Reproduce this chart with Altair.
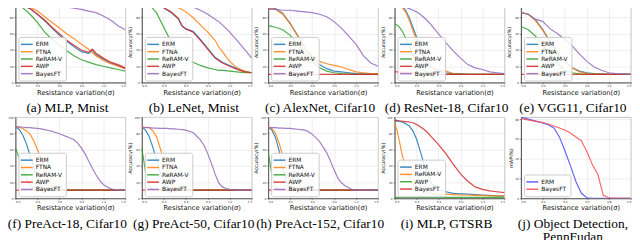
import altair as alt
import pandas as pd

# ---------------- data ----------------
XA = [0.0, 0.1, 0.2, 0.3, 0.4, 0.5, 0.6, 0.7, 0.8, 0.9, 1.0, 1.05, 1.1, 1.2, 1.3, 1.4, 1.5]
A_ERM = [97, 95, 91, 84, 76, 67, 58, 51, 44, 38, 36, 40, 34, 29, 24, 21, 17]
A_FTNA = [97, 96, 93, 88, 81, 74, 67, 60, 54, 47, 41, 37, 33, 27, 23, 20, 17]
A_RERAM = [97, 92, 84, 74, 62, 53, 46, 39, 33, 28, 25, 23.5, 22, 20, 18, 16, 14]
A_AWP = [97, 95, 91, 84, 77, 68, 60, 52, 46, 40, 37, 41, 36, 30, 25, 22, 18]
A_BAYES = [97, 97, 96.5, 96, 95.5, 95, 94, 93, 91.5, 90, 88, 87, 86, 82, 77, 70, 65]

XB = [0.0, 0.1, 0.2, 0.3, 0.4, 0.5, 0.55, 0.6, 0.7, 0.8, 0.9, 1.0, 1.05, 1.1, 1.2, 1.3, 1.4, 1.5]
B_ERM = [99, 98, 96, 92, 86, 78, 69, 66, 63, 53, 42, 31, 28, 25, 21, 17, 14, 12]
B_FTNA = [99, 99, 98, 97, 95, 92, 90, 87, 80, 71, 62, 52, 44, 38, 26, 18, 14, 12]
B_RERAM = [99, 96, 86, 68, 50, 34, 31, 29, 25, 21, 18, 16, 15, 15, 14, 13, 12, 12]
B_AWP = [99, 98, 96, 92, 87, 79, 70, 66, 62, 52, 41, 30, 27, 24, 20, 16, 13, 12]
B_BAYES = [99, 99, 98.5, 98, 97.5, 97, 96, 95, 93, 89, 84, 78, 75, 71, 62, 52, 41, 30]

XC = [0.0, 0.1, 0.2, 0.3, 0.4, 0.5, 0.6, 0.7, 0.8, 0.9, 1.0, 1.1, 1.2, 1.3, 1.4, 1.5]
C_ERM = [92, 91, 85, 73, 58, 42, 30, 22, 17, 14, 13, 12, 11, 10.5, 10, 10]
C_FTNA = [92, 90, 84, 72, 58, 43, 32, 26, 23, 21, 19, 16, 13, 12, 11, 11]
C_RERAM = [70, 68, 65, 58, 48, 36, 26, 18, 14, 12, 11, 10.5, 10, 10, 10, 10]
C_AWP = [10, 10, 10, 10, 10, 10, 10, 10, 10, 10, 10, 10, 10, 10, 10, 10]
C_BAYES = [90, 90, 89, 89, 88, 87, 86, 84, 81, 75, 67, 57, 47, 33, 24, 20]

XD = [0.0, 0.05, 0.1, 0.15, 0.2, 0.25, 0.3, 0.35, 0.4, 0.45, 0.5, 0.6, 0.7, 0.8, 0.9, 1.0, 1.1, 1.2, 1.3, 1.4, 1.5]
D_ERM = [96, 96, 94, 89, 80, 68, 56, 44, 33, 25, 19, 14, 12, 11, 10.5, 10, 10, 10, 10, 10, 10]
D_FTNA = [96, 96, 93, 87, 77, 64, 52, 40, 30, 23, 18, 15, 14, 11, 10.5, 10, 10, 10, 10, 10, 10]
D_RERAM = [72, 70, 64, 55, 45, 34, 25, 18, 14, 12, 11, 10, 10, 10, 10, 10, 10, 10, 10, 10, 10]
D_AWP = [13, 13, 12.5, 12.5, 12, 12, 11.5, 11, 11, 10.5, 10.5, 10, 10, 10, 10, 10, 10, 10, 10, 10, 10]
D_BAYES = [97, 96, 94, 92.5, 91, 89, 87, 84, 80, 76, 71, 60, 49, 39, 30, 22, 18, 16, 13, 12, 11]

XE = [0.0, 0.1, 0.2, 0.3, 0.4, 0.5, 0.6, 0.7, 0.8, 0.9, 1.0, 1.1, 1.2, 1.3, 1.4, 1.5]
E_ERM = [86, 84, 77, 65, 50, 37, 26, 18, 14, 12, 11, 10.5, 10, 10, 10, 10]
E_FTNA = [86, 84, 76, 64, 49, 35, 25, 18, 13, 11, 10.5, 10, 10, 10, 10, 10]
E_RERAM = [69, 65, 57, 46, 34, 23, 15, 12, 10.5, 10, 10, 10, 10, 10, 10, 10]
E_AWP = [10, 10, 10, 10, 10, 10, 10, 10, 10, 10, 10, 10, 10, 10, 10, 10]
E_BAYES = [86, 84, 78, 75, 66, 60, 53, 45, 35, 26, 19, 15, 12, 11, 10.5, 10]

XF = [0.0, 0.05, 0.1, 0.15, 0.2, 0.25, 0.3, 0.35, 0.4, 0.45, 0.5, 0.55, 0.6, 0.7,
      0.8, 0.85, 0.9, 0.95, 1.0, 1.05, 1.1, 1.15, 1.2, 1.25, 1.3, 1.35, 1.4, 1.5]
F_ERM = [88, 85, 78, 67, 53, 38, 24, 15, 11, 10, 10, 10, 10, 10,
         10, 10, 10, 10, 10, 10, 10, 10, 10, 10, 10, 10, 10, 10]
F_FTNA = [88, 87.5, 86, 83, 79, 71, 60, 48, 35, 24, 16, 12, 10, 10,
          10, 10, 10, 10, 10, 10, 10, 10, 10, 10, 10, 10, 10, 10]
F_RERAM = [62, 50, 36, 24, 16, 12, 10, 10, 10, 10, 10, 10, 10, 10,
           10, 10, 10, 10, 10, 10, 10, 10, 10, 10, 10, 10, 10, 10]
F_AWP = [10, 10, 10, 10, 10, 10, 10, 10, 10, 10, 10, 10, 10, 10,
         10, 10, 10, 10, 10, 10, 10, 10, 10, 10, 10, 10, 10, 10]
F_BAYES = [88, 88, 87.5, 87, 87, 86.5, 86, 85.5, 84.5, 83.5, 82.5, 81, 79.5, 76,
           72, 68, 62, 55, 46, 37, 29, 22, 17, 14, 12, 10.5, 10, 10]

G_ERM = [88, 84, 76, 63, 47, 32, 20, 13, 10.5, 10, 10, 10, 10, 10,
         10, 10, 10, 10, 10, 10, 10, 10, 10, 10, 10, 10, 10, 10]
G_FTNA = [88, 87.5, 87, 83, 76, 62, 46, 30, 19, 13, 10.5, 10, 10, 10,
          10, 10, 10, 10, 10, 10, 10, 10, 10, 10, 10, 10, 10, 10]
G_RERAM = [62, 33, 15, 11, 10, 10, 10, 10, 10, 10, 10, 10, 10, 10,
           10, 10, 10, 10, 10, 10, 10, 10, 10, 10, 10, 10, 10, 10]
G_AWP = [10, 10, 10, 10, 10, 10, 10, 10, 10, 10, 10, 10, 10, 10,
         10, 10, 10, 10, 10, 10, 10, 10, 10, 10, 10, 10, 10, 10]
G_BAYES = [87, 87, 87, 86.5, 86.5, 86, 86, 86, 85.5, 85.5, 85, 84.5, 84, 81,
           72, 65, 55, 43, 30, 19, 14, 12, 11, 10.5, 10, 10, 10, 10]

H_ERM = [88, 84, 75, 58, 36, 20, 13, 10, 10, 10, 10, 10, 10, 10,
         10, 10, 10, 10, 10, 10, 10, 10, 10, 10, 10, 10, 10, 10]
H_FTNA = [88, 86, 80, 68, 52, 34, 21, 13, 10, 10, 10, 10, 10, 10,
          10, 10, 10, 10, 10, 10, 10, 10, 10, 10, 10, 10, 10, 10]
H_RERAM = [57, 30, 14, 10, 10, 10, 10, 10, 10, 10, 10, 10, 10, 10,
           10, 10, 10, 10, 10, 10, 10, 10, 10, 10, 10, 10, 10, 10]
H_AWP = [10, 10, 10, 10, 10, 10, 10, 10, 10, 10, 10, 10, 10, 10,
         10, 10, 10, 10, 10, 10, 10, 10, 10, 10, 10, 10, 10, 10]
H_BAYES = [87, 87, 87, 86.5, 86.5, 86, 86, 85.5, 85, 84.5, 84, 82, 79, 70,
           56, 46, 35, 25, 19, 15.5, 13, 10.5, 10, 10, 10, 10, 10, 10]

XI = [0.0, 0.03, 0.06, 0.1, 0.15, 0.2, 0.25, 0.3, 0.35, 0.4, 0.45, 0.5, 0.55, 0.6,
      0.7, 0.8, 0.9, 1.0, 1.1, 1.2, 1.3, 1.4, 1.5]
I_ERM = [95, 95, 95, 94, 92, 89, 83, 73, 58, 43, 29, 19, 13, 10, 8, 6, 5.5, 5, 4.5, 4, 3.5, 3, 3]
I_RERAM = [92, 85, 73, 55, 38, 26, 18, 13, 10, 8, 7, 6, 5.5, 5, 5, 4.5, 4, 4, 3.5, 3.5, 3, 3, 3]
I_AWP = [1, 1, 1, 1, 1, 1, 1, 1, 1, 1, 1, 1, 1, 1, 1, 1, 1, 1, 1, 1, 1, 1, 1]
I_BAYES = [96, 96, 95.5, 95, 94.5, 94, 93, 91, 88, 85, 81, 76, 71, 66, 55, 42, 30, 21, 14, 11, 9, 8, 7]

XJ = [0.0, 0.05, 0.1, 0.15, 0.2, 0.25, 0.3, 0.35, 0.4, 0.45, 0.5, 0.55, 0.6, 0.65,
      0.7, 0.75, 0.8, 0.9, 1.0]
J_ERM = [82, 80.5, 79, 77.5, 76, 74, 71, 62, 48, 33, 17, 5, 0.5, 0, 0, 0, 0, 0, 0]
J_BAYES = [80.5, 79.5, 78.5, 77.5, 76.5, 75, 73, 71, 69, 66, 62, 58, 47, 34, 24, 3, 0.5, 0, 0]

NAMES5 = ["ERM", "FTNA", "ReRAM-V", "AWP", "BayesFT"]
COLORS5 = ["#1f77b4", "#ff7f0e", "#2ca02c", "#d62728", "#9467bd"]
NAMES_I = ["ERM", "ReRAM-V", "AWP", "BayesFT"]
COLORS_I = ["#1f77b4", "#ff7f0e", "#2ca02c", "#d62728"]
NAMES_J = ["ERM", "BayesFT"]
COLORS_J = ["#4b4bff", "#ff4b4b"]

SIGMA_TICKS = [0.0, 0.3, 0.6, 0.9, 1.2, 1.5]
SIGMA_TICKS_J = [0.0, 0.2, 0.4, 0.6, 0.8, 1.0]
ACC_TICKS = [0, 20, 40, 60, 80, 100]
MAP_TICKS = [0, 20, 40, 60, 80]

W = 111
H = 82


def frame(x, names, series):
    rows = []
    for k, (name, ys) in enumerate(zip(names, series)):
        for xv, yv in zip(x, ys):
            rows.append({"x": xv, "y": yv, "s": name, "k": k})
    return pd.DataFrame(rows)


def panel(x, names, colors, series, caption, xmax=1.5, xticks=SIGMA_TICKS,
          ymax=100, yticks=ACC_TICKS, ytitle="Accuracy(%)"):
    df = frame(x, names, series)
    return alt.Chart(df).mark_line(strokeWidth=1.2, opacity=0.85, clip=True).encode(
        x=alt.X("x:Q", scale=alt.Scale(domain=[0, xmax], nice=False, zero=False),
                axis=alt.Axis(values=xticks, format=".1f", title="Resistance variation(σ)",
                              titleX=W / 2 + 5)),
        y=alt.Y("y:Q", scale=alt.Scale(domain=[0, ymax], nice=False),
                axis=alt.Axis(values=yticks, title=ytitle)),
        color=alt.Color("s:N", scale=alt.Scale(domain=names, range=colors),
                        legend=alt.Legend(title=None)),
    ).properties(
        width=W, height=H,
        title=alt.TitleParams(caption, orient="bottom", anchor="middle", dx=-3, offset=5),
    )


pa = panel(XA, NAMES5, COLORS5, [A_ERM, A_FTNA, A_RERAM, A_AWP, A_BAYES], "(a) MLP, Mnist")
pb = panel(XB, NAMES5, COLORS5, [B_ERM, B_FTNA, B_RERAM, B_AWP, B_BAYES], "(b) LeNet, Mnist")
pc = panel(XC, NAMES5, COLORS5, [C_ERM, C_FTNA, C_RERAM, C_AWP, C_BAYES], "(c) AlexNet, Cifar10")
pd_ = panel(XD, NAMES5, COLORS5, [D_ERM, D_FTNA, D_RERAM, D_AWP, D_BAYES], "(d) ResNet-18, Cifar10")
pe = panel(XE, NAMES5, COLORS5, [E_ERM, E_FTNA, E_RERAM, E_AWP, E_BAYES], "(e) VGG11, Cifar10")
pf = panel(XF, NAMES5, COLORS5, [F_ERM, F_FTNA, F_RERAM, F_AWP, F_BAYES], "(f) PreAct-18, Cifar10")
pg = panel(XF, NAMES5, COLORS5, [G_ERM, G_FTNA, G_RERAM, G_AWP, G_BAYES], "(g) PreAct-50, Cifar10")
ph = panel(XF, NAMES5, COLORS5, [H_ERM, H_FTNA, H_RERAM, H_AWP, H_BAYES], "(h) PreAct-152, Cifar10")
pi = panel(XI, NAMES_I, COLORS_I, [I_ERM, I_RERAM, I_AWP, I_BAYES], "(i) MLP, GTSRB")
pj = panel(XJ, NAMES_J, COLORS_J, [J_ERM, J_BAYES], ["(j) Object Detection,", "PennFudan"],
           xmax=1.0, xticks=SIGMA_TICKS_J, ymax=82, yticks=MAP_TICKS, ytitle="mAP(%)")

chart = alt.concat(
    pa, pb, pc, pd_, pe, pf, pg, ph, pi, pj,
    columns=5, spacing={"row": 35, "column": 16.7}, bounds="flush",
).resolve_scale(
    x="independent", y="independent", color="independent"
).resolve_legend(color="independent").properties(
    padding={"left": -7.5, "top": -10, "right": 0, "bottom": 0}
).configure_view(
    stroke="#b0b0b0", strokeWidth=0.8
).configure_axis(
    labelFont="DejaVu Sans", labelFontSize=2.8, labelColor="#333333", labelPadding=1,
    titleFont="DejaVu Sans", titleFontSize=6.8, titleFontWeight="normal", titleColor="#111111",
    titlePadding=1.5, tickSize=1.5, tickWidth=0.5, tickColor="#333333",
    domainColor="#333333", domainWidth=0.8, gridColor="#e3e3e3", gridWidth=0.6,
).configure_axisY(
    titleFontSize=5, titlePadding=1.5
).configure_legend(
    orient="bottom-left", offset=2.5, padding=3.5, fillColor="rgba(255,255,255,0.85)",
    strokeColor="#cccccc", cornerRadius=2, labelFont="DejaVu Sans", labelFontSize=6,
    labelColor="#111111", symbolType="M-2,0L2,0", symbolSize=36, symbolStrokeWidth=1.5,
    rowPadding=0.4, labelOffset=5, symbolOffset=1,
).configure_title(
    font="Liberation Serif", fontSize=13.5, fontWeight="normal", color="#000000", lineHeight=14
)

chart.save("out.html", embed_options={"renderer": "svg", "actions": False})
